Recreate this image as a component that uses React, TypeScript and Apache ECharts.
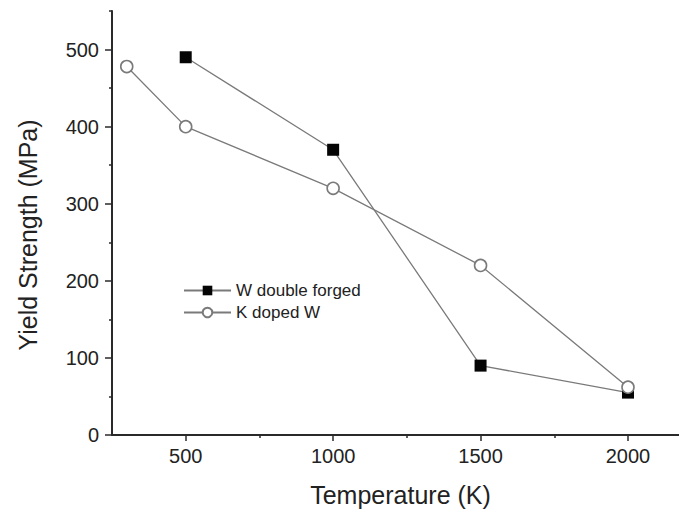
import React, { useEffect, useRef } from "react";
import * as echarts from "echarts";

// Yield strength of two tungsten grades versus temperature
const wForgedTemp = [500, 1000, 1500, 2000];
const wForgedStrength = [490, 370, 90, 55];
const kDopedTemp = [300, 500, 1000, 1500, 2000];
const kDopedStrength = [478, 400, 320, 220, 62];

const xMajorTicks = [500, 1000, 1500, 2000];
const xMinorTicks = [750, 1250, 1750];
const yMajorTicks = [0, 100, 200, 300, 400, 500];
const yMinorTicks = [50, 150, 250, 350, 450, 550];

const FONT = "'Liberation Sans', Arial, Helvetica, sans-serif";
const AXIS_COLOR = "#2a2a2a";
const LINE_COLOR = "#7a7a7a";

export default function App() {
  const ref = useRef<HTMLDivElement>(null);

  useEffect(() => {
    if (!ref.current) return;
    const chart = echarts.init(ref.current, undefined, { renderer: "svg" });

    const pair = (xs: number[], ys: number[]) => xs.map((x, i) => [x, ys[i]]);
    const plain = (v: number) => String(v);

    const xMin = 250;
    const xMax = 2173;
    const yMin = 0;
    const yMax = 550;

    chart.setOption({
      animation: false,
      backgroundColor: "#ffffff",
      textStyle: { fontFamily: FONT },
      grid: { left: 112, top: 11, right: 0, height: 424, containLabel: false },
      legend: {
        orient: "vertical",
        left: 178,
        top: 277,
        itemWidth: 47,
        itemHeight: 12,
        itemGap: 5,
        textStyle: { fontFamily: FONT, fontSize: 17, color: "#222" },
        data: ["W double forged", "K doped W"],
      },
      xAxis: [
        {
          type: "value",
          min: xMin,
          max: xMax,
          name: "Temperature (K)",
          nameLocation: "middle",
          nameGap: 47,
          nameTextStyle: { fontFamily: FONT, fontSize: 25, color: "#222", padding: [0, 0, 0, 10] },
          axisLine: { show: true, lineStyle: { color: AXIS_COLOR, width: 2 } },
          axisTick: {
            show: true,
            inside: false,
            length: 6,
            customValues: xMajorTicks,
            lineStyle: { color: AXIS_COLOR, width: 1.5 },
          },
          axisLabel: {
            customValues: xMajorTicks,
            formatter: plain,
            margin: 11,
            fontFamily: FONT,
            fontSize: 20,
            color: "#222",
          },
          splitLine: { show: false },
        },
        {
          type: "value",
          min: xMin,
          max: xMax,
          position: "bottom",
          axisLine: { show: false },
          axisTick: {
            show: true,
            length: 3,
            customValues: xMinorTicks,
            lineStyle: { color: AXIS_COLOR, width: 1.5 },
          },
          axisLabel: { show: false },
          splitLine: { show: false },
        },
      ],
      yAxis: [
        {
          type: "value",
          min: yMin,
          max: yMax,
          name: "Yield Strength (MPa)",
          nameLocation: "middle",
          nameGap: 72,
          nameTextStyle: { fontFamily: FONT, fontSize: 25, color: "#222", padding: [0, 24, 0, 0] },
          axisLine: { show: true, lineStyle: { color: AXIS_COLOR, width: 2 } },
          axisTick: {
            show: true,
            inside: false,
            length: 7,
            customValues: yMajorTicks,
            lineStyle: { color: AXIS_COLOR, width: 1.5 },
          },
          axisLabel: {
            customValues: yMajorTicks,
            formatter: plain,
            margin: 13,
            fontFamily: FONT,
            fontSize: 20,
            color: "#222",
          },
          splitLine: { show: false },
        },
        {
          type: "value",
          min: yMin,
          max: yMax,
          position: "left",
          axisLine: { show: false },
          axisTick: {
            show: true,
            length: 3,
            customValues: yMinorTicks,
            lineStyle: { color: AXIS_COLOR, width: 1.5 },
          },
          axisLabel: { show: false },
          splitLine: { show: false },
        },
      ],
      series: [
        {
          name: "W double forged",
          type: "line",
          data: pair(wForgedTemp, wForgedStrength),
          symbol: "rect",
          symbolSize: 12,
          itemStyle: { color: "#050505" },
          lineStyle: { color: LINE_COLOR, width: 1.3 },
          z: 2,
        },
        {
          name: "K doped W",
          type: "line",
          data: pair(kDopedTemp, kDopedStrength),
          symbol: "circle",
          symbolSize: 12,
          itemStyle: { color: "#ffffff", borderColor: LINE_COLOR, borderWidth: 1.6 },
          lineStyle: { color: LINE_COLOR, width: 1.3 },
          z: 3,
        },
      ],
    });

    return () => chart.dispose();
  }, []);

  return (
    <div
      ref={ref}
      style={{ position: "absolute", left: 0, top: 0, width: 679, height: 519, background: "#fff" }}
    />
  );
}
